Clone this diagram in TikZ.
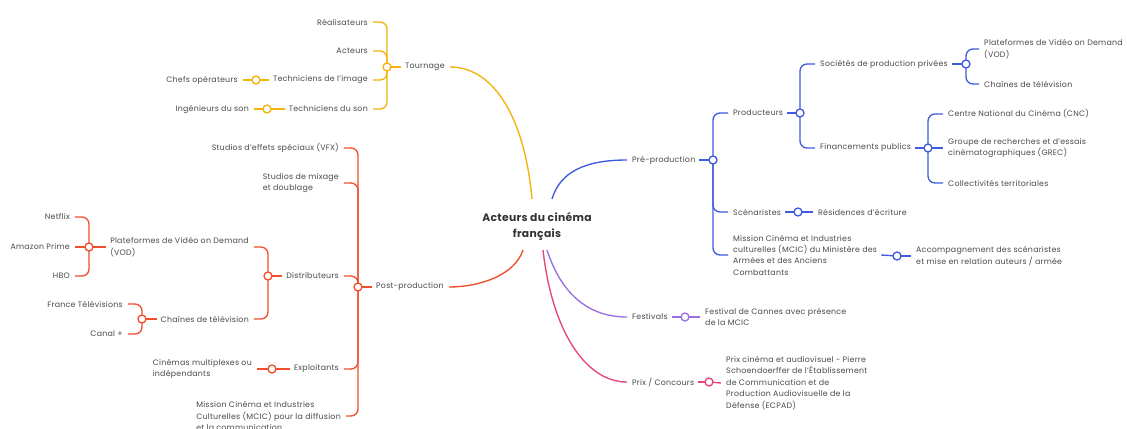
\documentclass[tikz,border=0pt]{standalone}
\usepackage{tikz}
\usepackage{fontspec}
\setmainfont{Poppins}[LetterSpace=3]
\usetikzlibrary{calc}
\pgfdeclarelayer{bg}
\pgfsetlayers{bg,main}
\definecolor{cTour}{HTML}{F4B20A}
\definecolor{cPost}{HTML}{F04E2C}
\definecolor{cPre}{HTML}{3F5BE0}
\definecolor{cFest}{HTML}{9B6FE3}
\definecolor{cPrix}{HTML}{E6457A}
\definecolor{txtc}{HTML}{4A4A4A}
\definecolor{titc}{HTML}{333333}
\begin{document}
\begin{tikzpicture}[x=1bp,y=-1bp,
  txt/.style={font=\fontsize{7.9}{11.4}\selectfont, text=txtc, inner sep=0pt, align=left},
  L/.style={txt, anchor=east},
  R/.style={txt, anchor=west},
  jn/.style={circle, draw, fill=white, line width=1.35pt, minimum size=8pt, inner sep=0pt},
  ln/.style={line width=1.35pt},
  br/.style={line width=1.35pt, rounded corners=7pt}]
\useasboundingbox (0,0) rectangle (1127,428);
% root
\node[font=\fontsize{10.8}{16}\selectfont\bfseries, text=titc, align=center, inner sep=0pt] (root) at (537,226) {Acteurs du cinéma\\français};
\coordinate (rY) at (532,199);
\coordinate (rB) at (552,199);
\coordinate (rR) at (523,250);
\coordinate (rP) at (547,250);
\coordinate (rK) at (543,250);
% ---------- Tournage (yellow)
\node[R] (tour) at (405,67) {Tournage};
\node[jn,draw=cTour] (jtour) at (387,67) {};
\node[L] (rea) at (368,22) {Réalisateurs};
\node[L] (act) at (368,51) {Acteurs};
\node[L] (timg) at (368,80) {Techniciens de l'image};
\node[L] (tson) at (368,109) {Techniciens du son};
\node[jn,draw=cTour] (jtimg) at (256,80) {};
\node[jn,draw=cTour] (jtson) at (267,109) {};
\node[L] (chefs) at (238,80) {Chefs opérateurs};
\node[L] (ingson) at (249,109) {Ingénieurs du son};
% ---------- Post-production (red)
\node[R] (post) at (376,287) {Post-production};
\node[jn,draw=cPost] (jpost) at (358,287) {};
\node[L] (vfx) at (339,148) {Studios d'effets spéciaux (VFX)};
\node[L] (mix) at (339,183) {Studios de mixage\\et doublage};
\node[L] (dist) at (339,276) {Distributeurs};
\node[L] (expl) at (339,369) {Exploitants};
\node[L] (mcicl) at (341,416) {Mission Cinéma et Industries\\Culturelles (MCIC) pour la diffusion\\et la communication};
\node[jn,draw=cPost] (jdist) at (268,276) {};
\node[L] (vod) at (249,247) {Plateformes de Vidéo on Demand\\(VOD)};
\node[L] (chtv) at (249,319) {Chaînes de télévision};
\node[jn,draw=cPost] (jvod) at (89,247) {};
\node[L] (netflix) at (70,217) {Netflix};
\node[L] (amazon) at (70,247) {Amazon Prime};
\node[L] (hbo) at (70,276) {HBO};
\node[jn,draw=cPost] (jchtv) at (142,319) {};
\node[L] (ftv) at (123,304) {France Télévisions};
\node[L] (canal) at (123,334) {Canal +};
\node[jn,draw=cPost] (jexpl) at (272,369) {};
\node[L] (cine) at (252,369) {Cinémas multiplexes ou\\indépendants};
% ---------- Pré-production (blue)
\node[R] (pre) at (632,160) {Pré-production};
\node[jn,draw=cPre] (jpre) at (713,160) {};
\node[R] (prod) at (733,113) {Producteurs};
\node[R] (scen) at (733,212) {Scénaristes};
\node[R] (mcicr) at (733,255) {Mission Cinéma et Industries\\culturelles (MCIC) du Ministère des\\Armées et des Anciens\\Combattants};
\node[jn,draw=cPre] (jprod) at (800,113) {};
\node[R] (soc) at (820,64) {Sociétés de production privées};
\node[R] (fin) at (820,148) {Financements publics};
\node[jn,draw=cPre] (jsoc) at (966,64) {};
\node[R] (vodr) at (984,49) {Plateformes de Vidéo on Demand\\(VOD)};
\node[R] (chtvr) at (984,84) {Chaînes de télévision};
\node[jn,draw=cPre] (jfin) at (928,148) {};
\node[R] (cnc) at (948,114) {Centre National du Cinéma (CNC)};
\node[R] (grec) at (948,148) {Groupe de recherches et d'essais\\cinématographiques (GREC)};
\node[R] (coll) at (948,183) {Collectivités territoriales};
\node[jn,draw=cPre] (jscen) at (798,212) {};
\node[R] (res) at (818,212) {Résidences d'écriture};
\node[jn,draw=cPre] (jmcic) at (897,256) {};
\node[R] (acc) at (916,256) {Accompagnement des scénaristes\\et mise en relation auteurs / armée};
% ---------- Festivals (purple)
\node[R] (fest) at (632,317) {Festivals};
\node[jn,draw=cFest] (jfest) at (685,317) {};
\node[R] (cannes) at (705,317) {Festival de Cannes avec présence\\de la MCIC};
% ---------- Prix (pink)
\node[R] (prix) at (632,382) {Prix / Concours};
\node[jn,draw=cPrix] (jprix) at (709,382) {};
\node[R] (ecpad) at (726,383) {Prix cinéma et audiovisuel - Pierre\\Schoendoerffer de l'Établissement\\de Communication et de\\Production Audiovisuelle de la\\Défense (ECPAD)};

\begin{pgfonlayer}{bg}
\fill[white] (0,0) rectangle (1127,428);
% main branches
\draw[ln,cTour] ([xshift=5pt]tour.east) .. controls (495,67) and (525,120) .. (rY);
\draw[ln,cPre] (rB) .. controls (560,172) and (585,160) .. ([xshift=-5pt]pre.west);
\draw[ln,cPost] (rR) .. controls (515,275) and (480,287) .. ([xshift=5pt]post.east);
\draw[ln,cFest] (rP) .. controls (560,290) and (585,317) .. ([xshift=-5pt]fest.west);
\draw[ln,cPrix] (rK) .. controls (552,330) and (585,382) .. ([xshift=-5pt]prix.west);
% yellow
\draw[ln,cTour] (jtour.center) -- ([xshift=-4pt]tour.west);
\foreach \n in {rea,act,timg,tson}{\draw[br,cTour] (jtour.center) |- ([xshift=5pt]\n.east);}
\draw[ln,cTour] (jtimg.center) -- ([xshift=-4pt]timg.west);
\draw[ln,cTour] (jtimg.center) -- ([xshift=5pt]chefs.east);
\draw[ln,cTour] (jtson.center) -- ([xshift=-4pt]tson.west);
\draw[ln,cTour] (jtson.center) -- ([xshift=5pt]ingson.east);
% red
\draw[ln,cPost] (jpost.center) -- ([xshift=-4pt]post.west);
\foreach \n in {vfx,mix,dist,expl,mcicl}{\draw[br,cPost] (jpost.center) |- ([xshift=5pt]\n.east);}
\draw[ln,cPost] (jdist.center) -- ([xshift=-4pt]dist.west);
\foreach \n in {vod,chtv}{\draw[br,cPost] (jdist.center) |- ([xshift=5pt]\n.east);}
\draw[ln,cPost] (jvod.center) -- ([xshift=-4pt]vod.west);
\foreach \n in {netflix,hbo}{\draw[br,cPost] (jvod.center) |- ([xshift=5pt]\n.east);}
\draw[ln,cPost] (jvod.center) -- ([xshift=5pt]amazon.east);
\draw[ln,cPost] (jchtv.center) -- ([xshift=-4pt]chtv.west);
\foreach \n in {ftv,canal}{\draw[br,cPost] (jchtv.center) |- ([xshift=5pt]\n.east);}
\draw[ln,cPost] (jexpl.center) -- ([xshift=-4pt]expl.west);
\draw[ln,cPost] (jexpl.center) -- ([xshift=5pt]cine.east);
% blue
\draw[ln,cPre] (jpre.center) -- ([xshift=4pt]pre.east);
\foreach \n in {prod,scen,mcicr}{\draw[br,cPre] (jpre.center) |- ([xshift=-5pt]\n.west);}
\draw[ln,cPre] (jprod.center) -- ([xshift=4pt]prod.east);
\foreach \n in {soc,fin}{\draw[br,cPre] (jprod.center) |- ([xshift=-5pt]\n.west);}
\draw[ln,cPre] (jsoc.center) -- ([xshift=4pt]soc.east);
\foreach \n in {vodr,chtvr}{\draw[br,cPre] (jsoc.center) |- ([xshift=-5pt]\n.west);}
\draw[ln,cPre] (jfin.center) -- ([xshift=4pt]fin.east);
\foreach \n in {cnc,coll}{\draw[br,cPre] (jfin.center) |- ([xshift=-5pt]\n.west);}
\draw[ln,cPre] (jfin.center) -- ([xshift=-5pt]grec.west);
\draw[ln,cPre] (jscen.center) -- ([xshift=4pt]scen.east);
\draw[ln,cPre] (jscen.center) -- ([xshift=-5pt]res.west);
\draw[ln,cPre] (jmcic.center) -- ([xshift=4pt]mcicr.east);
\draw[ln,cPre] (jmcic.center) -- ([xshift=-5pt]acc.west);
% purple
\draw[ln,cFest] (jfest.center) -- ([xshift=4pt]fest.east);
\draw[ln,cFest] (jfest.center) -- ([xshift=-5pt]cannes.west);
% pink
\draw[ln,cPrix] (jprix.center) -- ([xshift=4pt]prix.east);
\draw[ln,cPrix] (jprix.center) -- ([xshift=-5pt]ecpad.west);
\end{pgfonlayer}
\end{tikzpicture}
\end{document}
